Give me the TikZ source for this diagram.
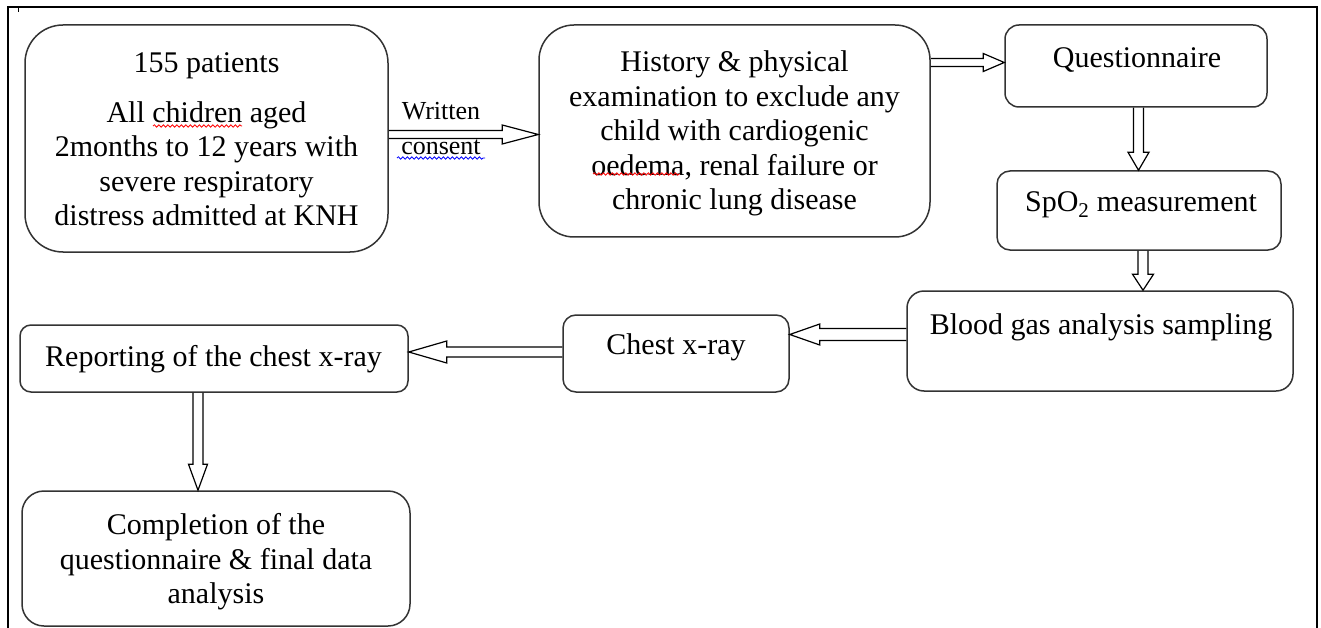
\documentclass[tikz,border=0pt]{standalone}
\usepackage{fontspec}
\setmainfont{Liberation Serif}
\usetikzlibrary{calc,decorations.pathmorphing}
\newcommand{\harr}[5]{%
  \coordinate (hA) at (#1); \coordinate (hB) at (#2);
  \coordinate (hH) at ($(hB)!#5!(hA)$);
  \draw[hollow] ($(hA)!#3!90:(hB)$) -- ($(hH)!#3!-90:(hA)$) -- ($(hH)!#4!-90:(hA)$)
    -- (hB) -- ($(hH)!#4!90:(hA)$) -- ($(hH)!#3!90:(hA)$) -- ($(hA)!#3!-90:(hB)$);
}
\tikzset{
  box/.style={draw=black!80, line width=1.5pt, inner sep=0pt},
  txt/.style={inner sep=0pt, align=center, font=\fontsize{30}{34.5}\selectfont},
  small/.style={inner sep=0pt, align=center, font=\fontsize{26}{35}\selectfont},
  hollow/.style={draw=black, line width=1.2pt, line join=miter},
  frame/.style={draw=black, line width=1.3pt},
  wavy/.style={line width=0.8pt, decorate, decoration={snake, segment length=4.5pt, amplitude=1.2pt}}
}
\begin{document}
\begin{tikzpicture}[x=1pt, y=-1pt]
\useasboundingbox (0,0) rectangle (1321,628);
\fill[white] (0,0) rectangle (1321,628);
% frame
\draw[frame] (8,628) -- (8,7) -- (1317,7) -- (1317,628);
\draw[line width=1pt] (18,7) -- (18,12);
% boxes
\node[box, rounded corners=38pt, minimum width=363pt, minimum height=227pt] (b1) at (206.5,138.5) {};
\node[box, rounded corners=35pt, minimum width=391pt, minimum height=212pt] (b2) at (734.5,131) {};
\node[box, rounded corners=14pt, minimum width=262pt, minimum height=82pt] (b3) at (1136,66) {};
\node[box, rounded corners=13pt, minimum width=284pt, minimum height=79pt] (b4) at (1139,210.5) {};
\node[box, rounded corners=17pt, minimum width=386pt, minimum height=100pt] (b5) at (1100,341) {};
\node[box, rounded corners=13pt, minimum width=226pt, minimum height=77pt] (b6) at (676,353.5) {};
\node[box, rounded corners=11pt, minimum width=388pt, minimum height=67pt] (b7) at (214,358.5) {};
\node[box, rounded corners=22pt, minimum width=388pt, minimum height=135pt] (b8) at (216,558.5) {};
% texts
\node[txt, anchor=north] (t1) at (206.5,52.5) {155 patients\\[15pt]All chidren aged\\2months to 12 years with\\severe respiratory\\distress admitted at KNH};
\node[txt, anchor=north] (t2) at (734.5,50.5) {History \& physical\\examination to exclude any\\child with cardiogenic\\oedema, renal failure or\\chronic lung disease};
\node[txt, anchor=base] (t3) at (1137,68) {Questionnaire};
\node[txt, anchor=base] (t4) at (1141,212) {SpO\textsubscript{2} measurement};
\node[txt, anchor=base] (t5) at (1101,334) {Blood gas analysis sampling};
\node[txt, anchor=base] (t6) at (676,354) {Chest x-ray};
\node[txt, anchor=base] (t7) at (213.5,366) {Reporting of the chest x-ray};
\node[txt, anchor=north] (t8) at (216,513.5) {Completion of the\\questionnaire \& final data\\analysis};
\node[small, anchor=north] (lbl) at (441,102) {Written\\consent};
% spell-check underlines
\draw[wavy, red] (153,126) -- (242,126);
\draw[wavy, red] (593,174) -- (680,174);
\draw[wavy, blue] (397,158) -- (485,158);
% helper coordinates
\coordinate (h1) at (0,134.5);
\coordinate (h2) at (0,62.5);
\coordinate (v3) at (1138.5,0);
\coordinate (v4) at (1143,0);
\coordinate (h5) at (0,334.5);
\coordinate (h6) at (0,352);
\coordinate (v7) at (198,0);
% arrows
\harr{b1.east |- h1}{b2.west |- h1}{4pt}{9.5pt}{36pt}
\harr{b2.east |- h2}{b3.west |- h2}{4pt}{9pt}{21pt}
\harr{v3 |- b3.south}{v3 |- b4.north}{5pt}{10.5pt}{18pt}
\harr{v4 |- b4.south}{v4 |- b5.north}{5pt}{10.5pt}{16pt}
\harr{b5.west |- h5}{b6.east |- h5}{6pt}{10.5pt}{30pt}
\harr{b6.west |- h6}{b7.east |- h6}{5pt}{11pt}{38pt}
\harr{v7 |- b7.south}{v7 |- b8.north}{5pt}{9.5pt}{26pt}
\end{tikzpicture}
\end{document}
